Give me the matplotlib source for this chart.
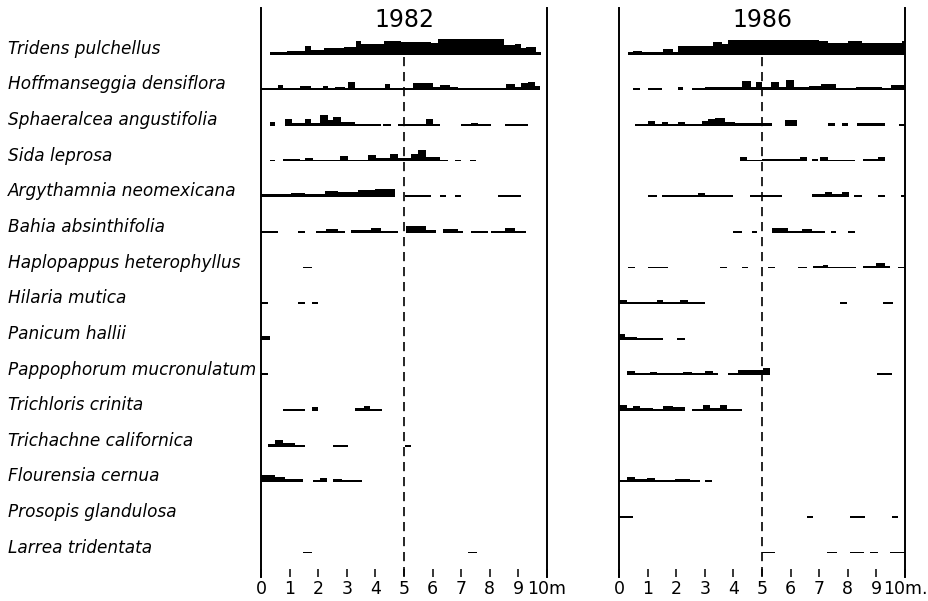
import matplotlib
matplotlib.use("Agg")
import matplotlib.pyplot as plt
from matplotlib.transforms import blended_transform_factory

# ── data ──────────────────────────────────────────────────────────────
species = [
    "Tridens pulchellus", "Hoffmanseggia densiflora", "Sphaeralcea angustifolia",
    "Sida leprosa", "Argythamnia neomexicana", "Bahia absinthifolia",
    "Haplopappus heterophyllus", "Hilaria mutica", "Panicum hallii",
    "Pappophorum mucronulatum", "Trichloris crinita", "Trichachne californica",
    "Flourensia cernua", "Prosopis glandulosa", "Larrea tridentata",
]
years = ["1982", "1986"]
tick_labels_1982 = ["0", "1", "2", "3", "4", "5", "6", "7", "8", "9", "10m"]
tick_labels_1986 = ["0", "1", "2", "3", "4", "5", "6", "7", "8", "9", "10m."]

# cover along transect: (start m, end m, cover height) per species
cover_1982 = [
    [(0.3, 0.9, 3), (0.9, 1.53, 4), (1.53, 1.76, 9), (1.76, 2.2, 5), (2.2, 2.9, 7),
     (2.9, 3.33, 8), (3.33, 3.5, 14), (3.5, 4.3, 11), (4.3, 4.9, 14), (4.9, 5.95, 13),
     (5.95, 6.2, 12), (6.2, 8.5, 16), (8.5, 8.87, 10), (8.87, 9.1, 11), (9.1, 9.28, 7),
     (9.28, 9.6, 8), (9.6, 9.78, 3)],
    [(0.0, 0.6, 1.5), (0.6, 0.77, 5), (0.77, 1.35, 1.5), (1.35, 1.76, 4), (1.76, 2.17, 1.5),
     (2.17, 2.34, 4), (2.34, 2.58, 1.5), (2.58, 2.93, 3), (2.93, 3.04, 2), (3.04, 3.27, 8),
     (3.27, 4.32, 2), (4.32, 4.5, 6), (4.5, 5.3, 2.5), (5.3, 6.0, 7), (6.0, 6.25, 3),
     (6.25, 6.6, 5), (6.6, 6.9, 3), (6.9, 8.58, 2), (8.58, 8.87, 6), (8.87, 9.1, 3),
     (9.1, 9.35, 7), (9.35, 9.57, 8), (9.57, 9.75, 4)],
    [(0.3, 0.48, 4), (0.83, 1.1, 7), (1.1, 1.53, 3), (1.53, 1.76, 7), (1.76, 2.05, 3),
     (2.05, 2.34, 11), (2.34, 2.52, 6), (2.52, 2.81, 9), (2.81, 3.27, 4), (3.27, 4.2, 1),
     (4.27, 4.56, 2), (4.79, 5.02, 2), (5.02, 5.78, 1), (5.78, 6.01, 7), (6.01, 6.25, 1),
     (7.0, 7.35, 1), (7.35, 7.6, 3), (7.6, 8.05, 1), (8.52, 8.8, 2), (8.8, 9.34, 1.5)],
    [(0.3, 0.48, 1), (0.77, 1.35, 2), (1.35, 1.53, 1.5), (1.53, 1.82, 3), (1.82, 2.75, 1),
     (2.75, 3.04, 5), (3.04, 3.74, 1), (3.74, 4.03, 6), (4.03, 4.5, 3), (4.5, 4.79, 7),
     (4.79, 5.26, 3), (5.26, 5.49, 7), (5.49, 5.78, 11), (5.78, 6.25, 4), (6.25, 6.54, 1),
     (6.77, 7.0, 1), (7.3, 7.53, 1)],
    [(0.0, 1.06, 3), (1.06, 1.53, 4), (1.53, 2.23, 3), (2.23, 2.69, 6), (2.69, 3.39, 5),
     (3.39, 3.97, 7), (3.97, 4.67, 8), (5.02, 5.96, 2), (6.25, 6.48, 1), (6.77, 7.0, 1),
     (8.29, 9.1, 1)],
    [(0.0, 0.6, 2), (1.29, 1.53, 1), (1.94, 2.28, 2), (2.28, 2.69, 4), (2.69, 2.93, 2),
     (3.16, 3.86, 3), (3.86, 4.2, 5), (4.2, 4.79, 1), (5.08, 5.78, 7), (5.78, 6.13, 3),
     (6.36, 6.89, 4), (6.89, 7.06, 1), (7.35, 7.93, 1), (8.05, 8.52, 1), (8.52, 8.87, 5),
     (8.87, 9.28, 1)],
    [(1.48, 1.77, 1)],
    [(0.0, 0.26, 1), (1.31, 1.54, 1), (1.77, 2.0, 1)],
    [(0.0, 0.31, 4)],
    [(0.0, 0.26, 1)],
    [(0.78, 1.54, 2), (1.77, 2.0, 4), (3.29, 3.6, 3), (3.6, 3.81, 5), (3.81, 4.22, 1)],
    [(0.26, 0.49, 3), (0.49, 0.78, 7), (0.78, 1.19, 4), (1.19, 1.54, 1), (2.53, 3.05, 1),
     (5.03, 5.24, 1)],
    [(0.0, 0.49, 7), (0.49, 0.84, 5), (0.84, 1.48, 3), (1.83, 2.06, 2), (2.06, 2.3, 4),
     (2.53, 2.82, 3), (2.82, 3.52, 1)],
    [],
    [(1.48, 1.77, 1), (7.25, 7.54, 1)],
]

cover_1986 = [
    [(0.33, 0.5, 3), (0.5, 0.8, 4), (0.8, 1.55, 2.5), (1.55, 1.9, 6), (1.9, 2.06, 3),
     (2.06, 3.3, 9), (3.3, 3.6, 13), (3.6, 3.8, 11), (3.8, 7.0, 15), (7.0, 7.3, 14),
     (7.3, 8.0, 12), (8.0, 8.5, 14), (8.5, 9.9, 12), (9.9, 10.0, 14)],
    [(0.5, 0.73, 1), (1.02, 1.5, 1.5), (2.07, 2.25, 3), (2.54, 3.0, 2), (3.0, 4.31, 3),
     (4.31, 4.6, 9), (4.6, 4.78, 3), (4.78, 5.0, 8), (5.0, 5.3, 3), (5.3, 5.6, 8),
     (5.6, 5.84, 3), (5.84, 6.13, 10), (6.13, 6.66, 3), (6.66, 7.06, 4), (7.06, 7.6, 6),
     (7.6, 8.3, 1), (8.3, 9.2, 3), (9.2, 9.5, 2), (9.5, 10.0, 5)],
    [(0.56, 1.03, 2), (1.03, 1.26, 5), (1.26, 1.49, 2), (1.49, 1.72, 4), (1.72, 2.07, 2),
     (2.07, 2.31, 4), (2.31, 2.89, 2), (2.89, 3.12, 5), (3.12, 3.36, 7), (3.36, 3.71, 8),
     (3.71, 4.06, 4), (4.06, 5.34, 3), (5.8, 6.21, 6), (7.32, 7.55, 3), (7.79, 8.02, 3),
     (8.31, 9.3, 3), (9.8, 10.0, 1)],
    [(4.23, 4.46, 4), (4.46, 4.99, 1.5), (4.99, 6.33, 2), (6.33, 6.56, 4), (6.74, 6.97, 2),
     (7.03, 7.32, 4), (7.32, 8.25, 1), (8.54, 9.05, 2), (9.05, 9.3, 4)],
    [(1.03, 1.32, 1), (1.49, 2.77, 2), (2.77, 3.0, 4), (3.0, 4.0, 1), (4.58, 4.99, 2),
     (4.99, 5.69, 1), (6.74, 7.2, 3), (7.2, 7.45, 5), (7.45, 7.8, 3), (7.8, 8.05, 5),
     (8.2, 8.5, 2), (9.07, 9.3, 1), (9.85, 10.0, 1)],
    [(4.0, 4.29, 2), (4.64, 4.81, 2), (5.34, 5.92, 5), (5.92, 6.39, 2), (6.39, 6.74, 4),
     (6.74, 7.2, 1), (7.4, 7.6, 1), (8.02, 8.25, 1)],
    [(0.33, 0.56, 1), (1.03, 1.72, 1.5), (3.53, 3.76, 1), (4.29, 4.52, 1), (5.22, 5.45, 1),
     (6.27, 6.56, 1), (6.79, 7.15, 2), (7.15, 7.3, 3), (7.3, 8.3, 1), (8.54, 9.0, 2),
     (9.0, 9.3, 5), (9.3, 9.47, 2), (9.76, 10.0, 1)],
    [(0.0, 0.27, 4), (0.27, 0.73, 1), (0.73, 1.32, 2), (1.32, 1.55, 4), (1.55, 2.13, 2),
     (2.13, 2.42, 4), (2.42, 3.0, 1), (7.73, 7.96, 1), (9.24, 9.59, 2)],
    [(0.0, 0.21, 6), (0.21, 0.62, 3), (0.62, 1.55, 1.5), (2.02, 2.31, 1)],
    [(0.27, 0.56, 4), (0.56, 1.08, 1.5), (1.08, 1.32, 3), (1.32, 2.25, 1.5), (2.25, 2.54, 3),
     (2.54, 3.0, 1.5), (3.0, 3.3, 4), (3.3, 3.47, 1), (3.82, 4.17, 1.5), (4.17, 5.05, 5),
     (5.05, 5.28, 7), (9.01, 9.53, 1.5)],
    [(0.0, 0.27, 6), (0.27, 0.5, 3), (0.5, 0.73, 5), (0.73, 1.2, 3), (1.2, 1.55, 2),
     (1.55, 1.9, 5), (1.9, 2.31, 4), (2.54, 2.95, 2), (2.95, 3.18, 6), (3.18, 3.53, 3),
     (3.53, 3.76, 6), (3.76, 4.29, 2)],
    [],
    [(0.0, 0.27, 1), (0.27, 0.56, 5), (0.56, 0.97, 3), (0.97, 1.26, 4), (1.26, 1.96, 2),
     (1.96, 2.48, 3), (2.48, 2.83, 2), (3.0, 3.24, 1)],
    [(0.0, 0.5, 1.5), (6.56, 6.79, 1), (8.08, 8.6, 1.5), (9.53, 9.76, 1)],
    [(5.0, 5.45, 1), (7.26, 7.61, 1), (8.08, 8.55, 1.5), (8.77, 9.07, 1), (9.47, 10.0, 1)],
]

# ── layout (pixel-based) ──────────────────────────────────────────────
W, H = 929, 601
ROW_PX = 35.64          # vertical distance between species rows
FIRST_ROW_PX = 54.5     # baseline of first row from top
AX_TOP, AX_BOT = 8, 577
MIN_H = 1.8             # thinnest drawn line (px)

fig = plt.figure(figsize=(W / 100, H / 100), dpi=100)
fig.patch.set_facecolor("white")

ylim_top = -(FIRST_ROW_PX - AX_TOP) / ROW_PX
ylim_bot = len(species) - 1 + (AX_BOT - (FIRST_ROW_PX + ROW_PX * (len(species) - 1))) / ROW_PX

panels = [(261, cover_1982, tick_labels_1982), (619, cover_1986, tick_labels_1986)]
axes = []
for (x_left, cover, ticklabels), year in zip(panels, years):
    ax = fig.add_axes([x_left / W, (H - AX_BOT) / H, 286 / W, (AX_BOT - AX_TOP) / H])
    ax.set_xlim(0, 10)
    ax.set_ylim(ylim_bot, ylim_top)
    for i, segs in enumerate(cover):
        for x0, x1, h in segs:
            ax.bar(x0, -max(h, MIN_H) / ROW_PX, width=x1 - x0, bottom=i,
                   align="edge", color="black", linewidth=0)
    # 5 m reference line
    ax.plot([5, 5], [0.08, ylim_bot], color="black", lw=1.2,
            dashes=(5.5, 3.5), solid_capstyle="butt")
    for side in ("top", "bottom"):
        ax.spines[side].set_visible(False)
    for side in ("left", "right"):
        ax.spines[side].set_linewidth(1.4)
    ax.set_yticks([])
    ax.set_xticks(range(11))
    ax.set_xticklabels(ticklabels, fontsize=12.5)
    ax.tick_params(axis="x", direction="in", length=6, width=1.1, pad=2)
    ax.text(0.5, 0.979, year, transform=ax.transAxes, ha="center", va="center",
            fontsize=17)
    axes.append(ax)

# nudge the "10m." label so it clears the "9"
axes[1].get_xticklabels()[-1].set_x(10.12)

# species names down the left side
trans = blended_transform_factory(fig.transFigure, axes[0].transData)
for i, name in enumerate(species):
    axes[0].text(8 / W, i - 0.02, name, transform=trans, ha="left", va="baseline",
                 fontsize=12.2, fontstyle="italic")

fig.savefig("out.png", dpi=100, facecolor="white")
